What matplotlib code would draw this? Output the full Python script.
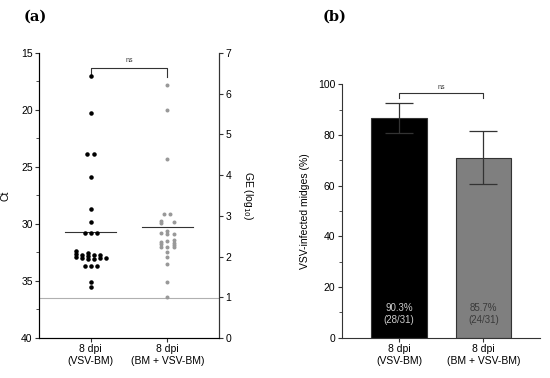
import numpy as np
import matplotlib
matplotlib.use("Agg")
import matplotlib.pyplot as plt

plt.rcParams["font.family"] = ["Liberation Sans", "DejaVu Sans"]

# ── Panel (a): Ct values per midge ─────────────────────────────────────
groups = ["8 dpi\n(VSV-BM)", "8 dpi\n(BM + VSV-BM)"]

ct_vsv = [17.0, 20.3, 23.9, 23.9, 25.85, 28.7, 29.8, 30.8, 30.8, 30.8,
          32.4, 32.65, 32.9, 32.7, 33.0, 32.55, 32.8, 33.05, 32.75, 33.05,
          32.7, 32.95, 33.0,
          33.7, 33.7, 33.7, 35.05, 35.5]
off_vsv = [0, 0, -0.044, 0.043, 0, 0, 0, -0.078, 0, 0.078,
           -0.195, -0.195, -0.195, -0.117, -0.117, -0.039, -0.039, -0.039, 0.039, 0.039,
           0.12, 0.12, 0.2,
           -0.078, 0, 0.078, 0, 0]

ct_bm = [17.8, 20.0, 24.3, 29.1, 29.1, 29.7, 29.95, 29.85,
         30.8, 31.6, 31.8, 32.0,
         30.6, 30.9, 31.5, 32.05, 32.5, 32.9, 33.5,
         30.85, 31.4, 31.65, 31.85, 32.05,
         35.05, 36.4]
off_bm = [0, 0, 0, -0.044, 0.039, -0.078, -0.078, 0.086,
          -0.078, -0.078, -0.078, -0.078,
          0, 0, 0, 0, 0, 0, 0,
          0.086, 0.086, 0.086, 0.086, 0.086,
          0, 0]

median_ct = [30.73, 30.24]
cutoff_ct = 36.45

# ── Panel (b): infection rates ─────────────────────────────────────────
pct_mean = [86.7, 70.9]
err_low = [80.8, 60.7]
err_high = [92.6, 81.7]
bar_text = ["90.3%\n(28/31)", "85.7%\n(24/31)"]

fig = plt.figure(figsize=(5.5, 3.78), dpi=100)
spine_col = "#333333"

# ── Draw panel (a) ─────────────────────────────────────────────────────
ax1 = fig.add_axes([0.0709, 0.1058, 0.3273, 0.7542])
ax1.scatter(1 + np.array(off_vsv), ct_vsv, s=5, color="black", zorder=3)
ax1.scatter(2 + np.array(off_bm), ct_bm, s=3.5, color="#999999", zorder=3)
for i, m in enumerate(median_ct):
    ax1.plot([i + 1 - 0.33, i + 1 + 0.33], [m, m], color="#333333", lw=0.8)
ax1.axhline(cutoff_ct, color="#b0b0b0", lw=0.8)

# significance bracket
ax1.plot([1, 1, 2, 2], [17.1, 16.3, 16.3, 17.1], color="#333333", lw=0.8)
ax1.text(1.5, 16.0, "ns", ha="center", va="bottom", fontsize=5, color="#333333")

ax1.set_xlim(0.33, 2.67)
ax1.set_ylim(40, 15)
ax1.set_yticks([15, 20, 25, 30, 35, 40])
ax1.set_yticks(np.arange(17.5, 40, 5), minor=True)
ax1.set_xticks([1, 2])
ax1.set_xticklabels(groups, fontsize=7.5)
ax1.set_ylabel("Ct", fontsize=7.5, labelpad=8)
ax1.spines["top"].set_visible(False)
for s in ["left", "bottom", "right"]:
    ax1.spines[s].set_color(spine_col)
    ax1.spines[s].set_linewidth(0.8)
ax1.tick_params(labelsize=7.5, length=3, width=0.8, color=spine_col, pad=1.5)
ax1.tick_params(which="minor", length=2, width=0.6, color=spine_col)

ax1r = ax1.twinx()
ax1r.set_ylim(0, 7)
ax1r.set_yticks(range(0, 8))
ax1r.spines["top"].set_visible(False)
ax1r.spines["right"].set_color(spine_col)
ax1r.spines["right"].set_linewidth(0.8)
ax1r.tick_params(labelsize=7.5, length=3, width=0.8, color=spine_col, pad=1.5)
ax1r.set_ylabel("GE (log$_{10}$)", fontsize=7.5, rotation=270, labelpad=17)

# ── Draw panel (b) ─────────────────────────────────────────────────────
ax2 = fig.add_axes([0.6213, 0.1066, 0.3605, 0.6704])
xpos = np.array([1, 2])
yerr = [np.array(pct_mean) - np.array(err_low), np.array(err_high) - np.array(pct_mean)]
ax2.bar(xpos, pct_mean, width=0.66, color=["black", "#7f7f7f"],
        edgecolor="#333333", linewidth=0.8, zorder=2)
ax2.errorbar(xpos, pct_mean, yerr=yerr, fmt="none", ecolor="#333333",
             elinewidth=0.9, capsize=10, capthick=0.9, zorder=3)
txt_cols = ["#cccccc", "#3a3a3a"]
for i, t in enumerate(bar_text):
    ax2.text(xpos[i], 9.4, t, ha="center", va="center", fontsize=7,
             color=txt_cols[i], linespacing=1.3)

ax2.plot([1, 1, 2, 2], [94.4, 96.4, 96.4, 94.4], color="#333333", lw=0.8)
ax2.text(1.5, 97.2, "ns", ha="center", va="bottom", fontsize=5, color="#333333")

ax2.set_xlim(0.32, 2.67)
ax2.set_ylim(0, 100)
ax2.set_yticks(range(0, 101, 20))
ax2.set_yticks(range(10, 100, 20), minor=True)
ax2.set_xticks(xpos)
ax2.set_xticklabels(groups, fontsize=7.5)
ax2.set_ylabel("VSV-infected midges (%)", fontsize=7.5, labelpad=6)
for s in ["top", "right"]:
    ax2.spines[s].set_visible(False)
for s in ["left", "bottom"]:
    ax2.spines[s].set_color(spine_col)
    ax2.spines[s].set_linewidth(0.8)
ax2.tick_params(labelsize=7.5, length=3, width=0.8, color=spine_col, pad=1.5)
ax2.tick_params(which="minor", length=2, width=0.6, color=spine_col)

# ── Panel letters ──────────────────────────────────────────────────────
fig.text(0.0636, 0.955, "(a)", fontsize=10.5, family="serif", fontweight="bold",
         ha="center", va="center")
fig.text(0.608, 0.955, "(b)", fontsize=10.5, family="serif", fontweight="bold",
         ha="center", va="center")

plt.savefig("out.png", dpi=100)
